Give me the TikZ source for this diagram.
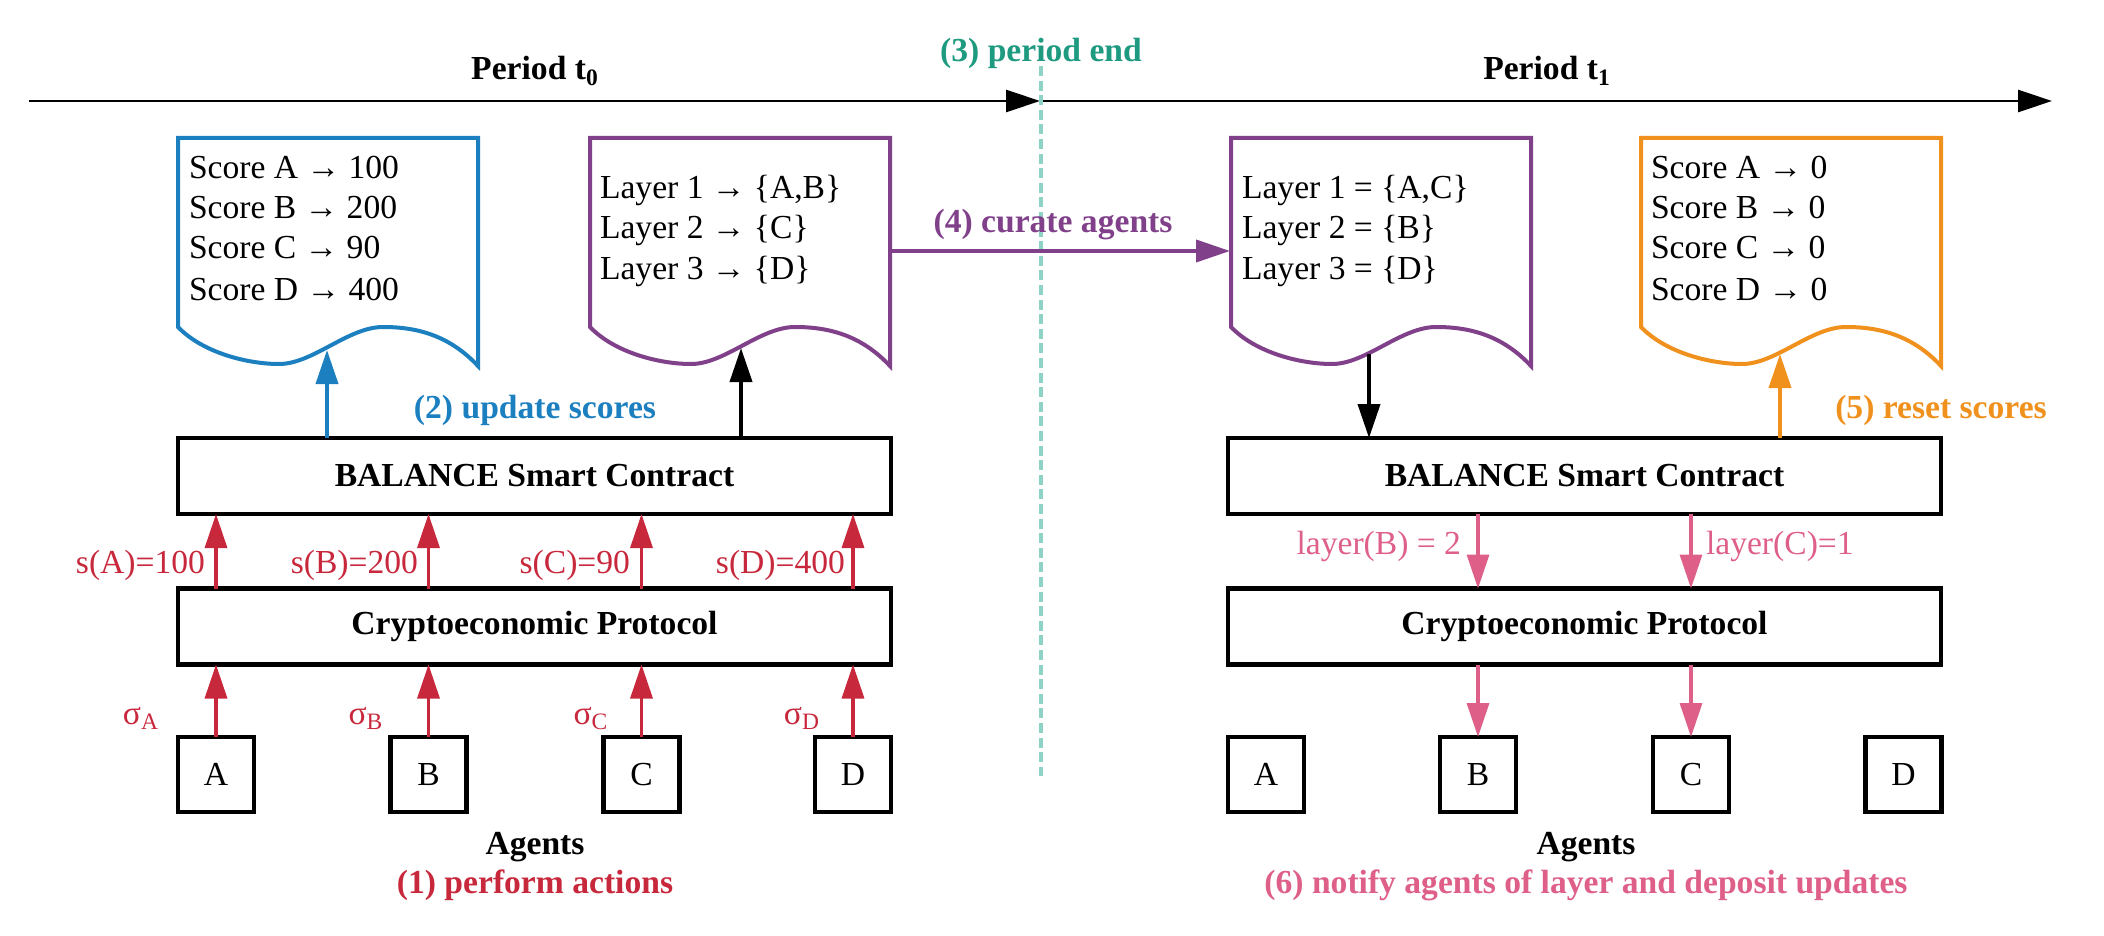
\documentclass[tikz,border=0pt]{standalone}
\usepackage{fontspec}
\setmainfont{Liberation Serif}
\usetikzlibrary{arrows.meta}
\definecolor{cblue}{HTML}{1B7FC0}
\definecolor{cpurple}{HTML}{80418A}
\definecolor{cteal}{HTML}{1E9A80}
\definecolor{cdash}{HTML}{8FD3C6}
\definecolor{corange}{HTML}{F0911E}
\definecolor{cred}{HTML}{C8283C}
\definecolor{cpink}{HTML}{DE5F87}
\begin{document}
\begin{tikzpicture}[x=0.5pt,y=-0.5pt,
  font=\fontsize{16.8}{20}\selectfont,
  every node/.style={inner sep=0pt, outer sep=0pt},
  tip/.style={-{Triangle[length=17pt,width=11pt]}},
  timeline/.style={line width=1.4pt, black, tip},
  dashline/.style={cdash, line width=1.7pt, dash pattern=on 5pt off 2.3pt},
  docline/.style={line width=2pt, line join=miter},
  blockbox/.style={draw, line width=2.2pt, minimum width=356.5pt, minimum height=38pt, font=\fontsize{16.8}{20}\selectfont\bfseries},
  agentbox/.style={draw, line width=2.2pt, minimum width=38pt, minimum height=37.5pt},
  arr/.style={line width=1.9pt, tip},
  thinarr/.style={line width=1.65pt, tip},
  doctxt/.style={anchor=base west},
  docpic/.pic={
    \draw[docline] (0,189) -- (0,0) -- (300,0) -- (300,228)
      .. controls (272,198) and (240,189) .. (205,189)
      .. controls (170,189) and (135,226) .. (101,226)
      .. controls (70,226) and (25,215) .. (0,189) -- cycle;
  }]
\useasboundingbox (0,0) rectangle (2104,936);

% timeline
\coordinate (tl0) at (29,101);
\coordinate (tlm) at (1040,101);
\coordinate (tl1) at (2052,101);
\draw[timeline] (tl0) -- (tlm);
\draw[timeline] (tlm) -- (tl1);
\node[anchor=base, font=\fontsize{16.8}{20}\selectfont\bfseries] (p0) at (535,80) {Period t\textsubscript{0}};
\node[anchor=base, font=\fontsize{16.8}{20}\selectfont\bfseries] (p1) at (1547,80) {Period t\textsubscript{1}};

% period end
\coordinate (de0) at (1041,66);
\coordinate (de1) at (1041,776);
\draw[dashline] (de0) -- (de1);
\node[anchor=base, text=cteal, font=\fontsize{16.8}{20}\selectfont\bfseries] (pend) at (1041,62) {(3) period end};

% documents
\pic[color=cblue] at (178,138) {docpic};
\pic[color=cpurple] at (590,138) {docpic};
\pic[color=cpurple] at (1231,138) {docpic};
\pic[color=corange] at (1641,138) {docpic};

\node[doctxt] (s1a) at (189,179) {Score A → 100};
\node[doctxt] (s1b) at (189,219) {Score B → 200};
\node[doctxt] (s1c) at (189,259) {Score C → 90};
\node[doctxt] (s1d) at (189,300) {Score D → 400};

\node[doctxt] (l1a) at (600,199) {Layer 1 → \{A,B\}};
\node[doctxt] (l1b) at (600,239) {Layer 2 → \{C\}};
\node[doctxt] (l1c) at (600,279) {Layer 3 → \{D\}};

\node[doctxt] (l2a) at (1242,199) {Layer 1 = \{A,C\}};
\node[doctxt] (l2b) at (1242,239) {Layer 2 = \{B\}};
\node[doctxt] (l2c) at (1242,279) {Layer 3 = \{D\}};

\node[doctxt] (s2a) at (1651,179) {Score A → 0};
\node[doctxt] (s2b) at (1651,219) {Score B → 0};
\node[doctxt] (s2c) at (1651,259) {Score C → 0};
\node[doctxt] (s2d) at (1651,300) {Score D → 0};

% curate arrow
\coordinate (c4a) at (891,251);
\coordinate (c4b) at (1230,251);
\draw[arr, cpurple] (c4a) -- (c4b);
\node[anchor=base, text=cpurple, font=\fontsize{16.8}{20}\selectfont\bfseries] (cur) at (1053,233) {(4) curate agents};

% blocks
\node[blockbox] (bsc0) at (534.5,476) {BALANCE Smart Contract};
\node[blockbox] (cp0) at (534.5,626.5) {Cryptoeconomic Protocol};
\node[blockbox] (bsc1) at (1584.5,476) {BALANCE Smart Contract};
\node[blockbox] (cp1) at (1584.5,626.5) {Cryptoeconomic Protocol};

% agents
\node[agentbox] (La) at (216,774.5) {A};
\node[agentbox] (Lb) at (428.5,774.5) {B};
\node[agentbox] (Lc) at (641.5,774.5) {C};
\node[agentbox] (Ld) at (853,774.5) {D};
\node[agentbox] (Ra) at (1266,774.5) {A};
\node[agentbox] (Rb) at (1478,774.5) {B};
\node[agentbox] (Rc) at (1691,774.5) {C};
\node[agentbox] (Rd) at (1903.5,774.5) {D};

% upper arrows left
\coordinate (bt0) at (327,350);
\draw[arr, cblue] (bsc0.north -| bt0) -- (bt0);
\coordinate (lt0) at (741,348);
\draw[arr, black] (bsc0.north -| lt0) -- (lt0);
\node[anchor=base, text=cblue, font=\fontsize{16.8}{20}\selectfont\bfseries] (upd) at (535,418) {(2) update scores};

% upper arrows right
\coordinate (lt1) at (1369,354);
\draw[arr, black] (lt1) -- (bsc1.north -| lt1);
\coordinate (rt1) at (1780,354);
\draw[arr, corange] (bsc1.north -| rt1) -- (rt1);
\node[anchor=base, text=corange, font=\fontsize{16.8}{20}\selectfont\bfseries] (rst) at (1941,418) {(5) reset scores};

% red arrows
\foreach \i in {a,b,c,d} {
  \draw[thinarr, cred] (L\i.north) -- (cp0.south -| L\i);
  \draw[thinarr, cred] (cp0.north -| L\i) -- (bsc0.south -| L\i);
}
\node[anchor=base east, text=cred] (sa) at (205,573) {s(A)=100};
\node[anchor=base east, text=cred] (sb) at (418,573) {s(B)=200};
\node[anchor=base east, text=cred] (sc) at (630,573) {s(C)=90};
\node[anchor=base east, text=cred] (sd) at (845,573) {s(D)=400};
\node[anchor=base, text=cred] (ga) at (141,724) {σ\textsubscript{A}};
\node[anchor=base, text=cred] (gb) at (366,724) {σ\textsubscript{B}};
\node[anchor=base, text=cred] (gc) at (591,724) {σ\textsubscript{C}};
\node[anchor=base, text=cred] (gd) at (802,724) {σ\textsubscript{D}};

% pink arrows
\foreach \i in {b,c} {
  \draw[thinarr, cpink] (bsc1.south -| R\i) -- (cp1.north -| R\i);
  \draw[thinarr, cpink] (cp1.south -| R\i) -- (R\i.north);
}
\node[anchor=base east, text=cpink] (lyb) at (1461,554) {layer(B) = 2};
\node[anchor=base west, text=cpink] (lyc) at (1706,554) {layer(C)=1};

% bottom labels
\node[anchor=base, font=\fontsize{16.8}{20}\selectfont\bfseries] (ag0) at (535,854) {Agents};
\node[anchor=base, text=cred, font=\fontsize{16.8}{20}\selectfont\bfseries] (act) at (535,893) {(1) perform actions};
\node[anchor=base, font=\fontsize{16.8}{20}\selectfont\bfseries] (ag1) at (1586,854) {Agents};
\node[anchor=base, text=cpink, font=\fontsize{16.8}{20}\selectfont\bfseries] (ntf) at (1586,893) {(6) notify agents of layer and deposit updates};
\end{tikzpicture}
\end{document}
